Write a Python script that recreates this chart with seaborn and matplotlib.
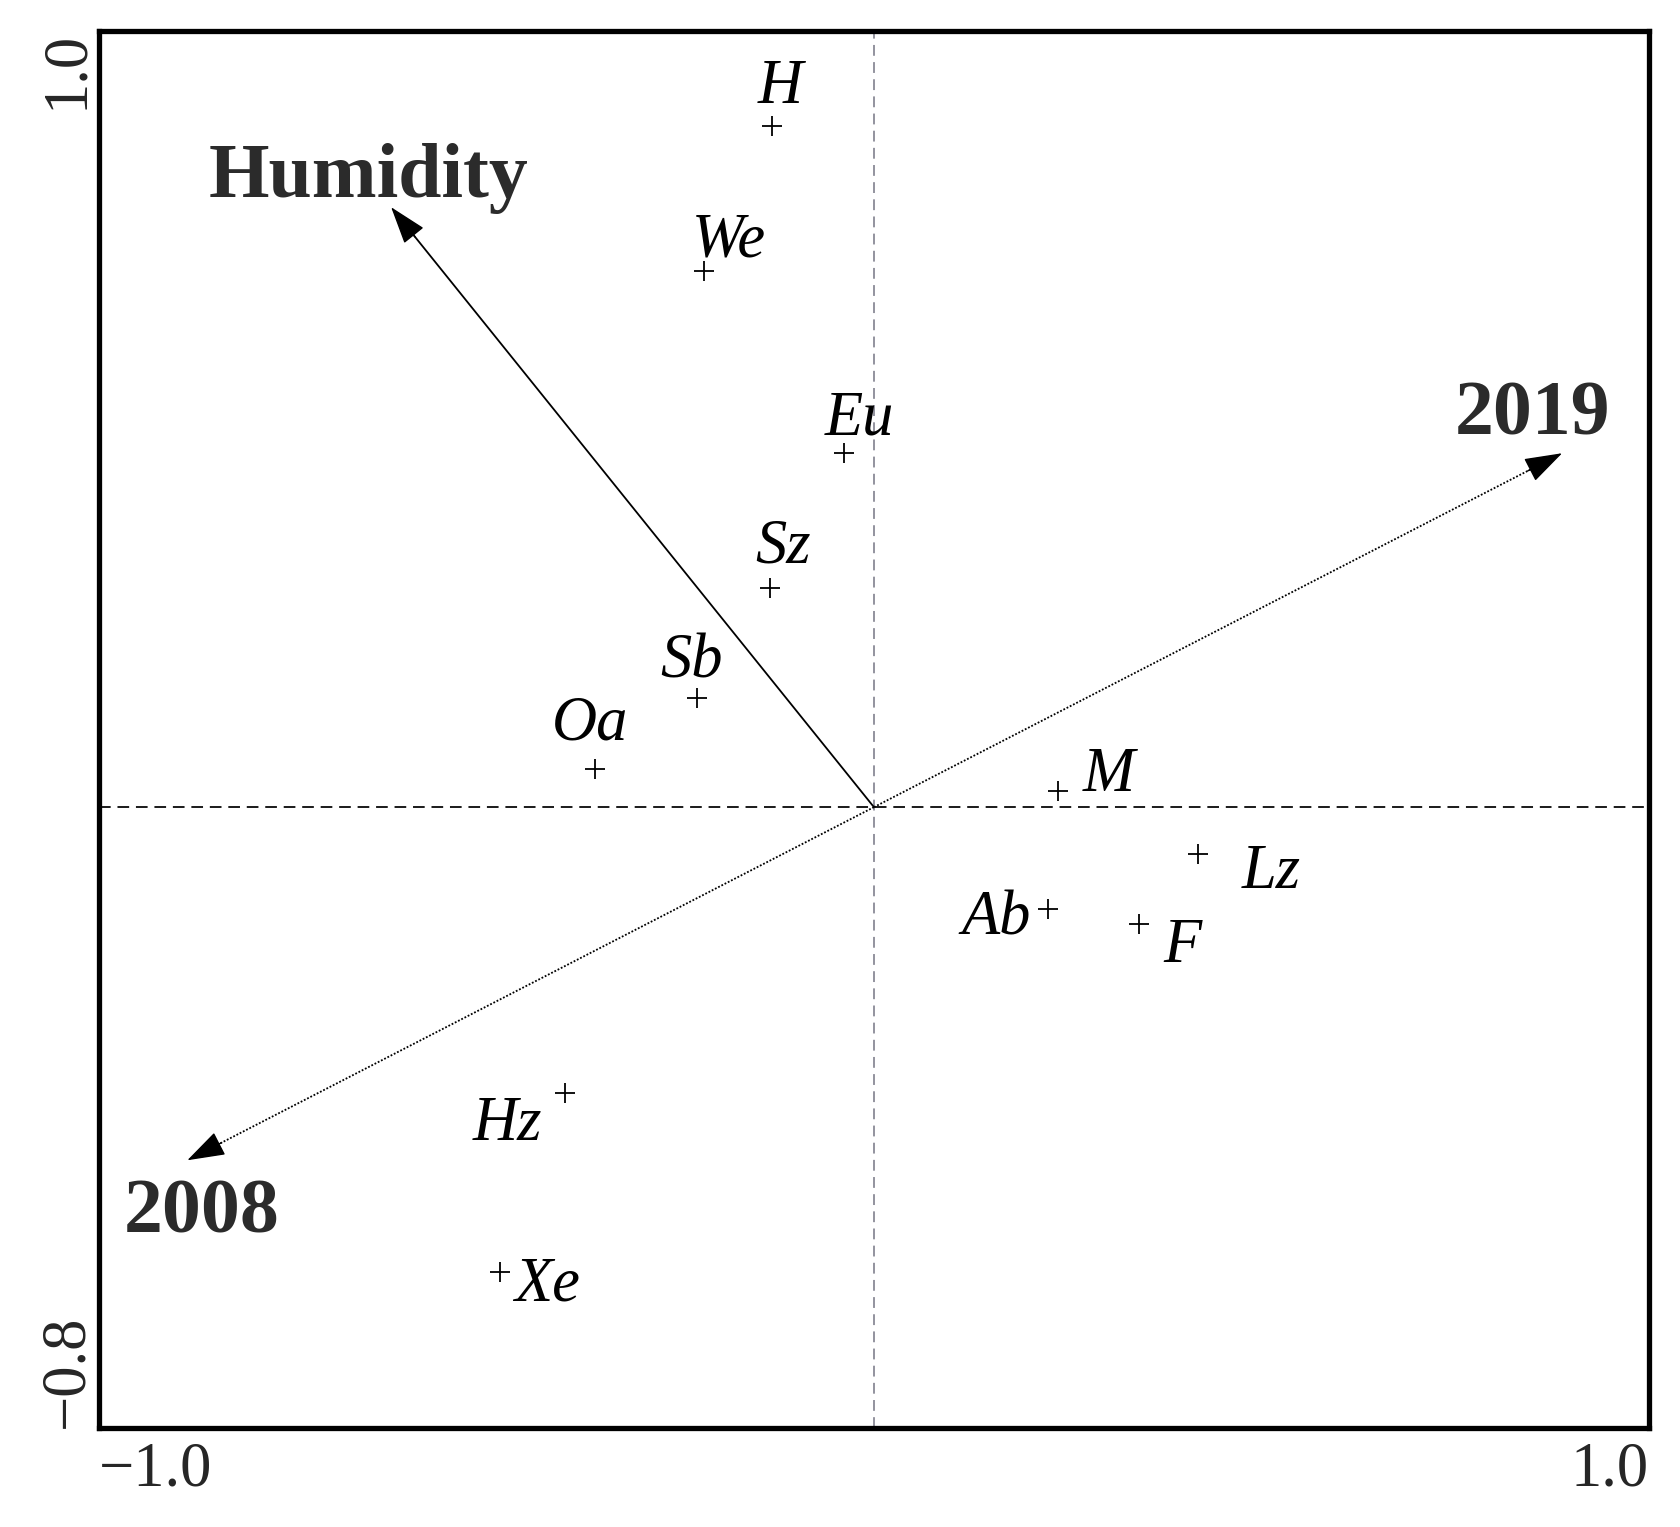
import matplotlib
matplotlib.use("Agg")
import matplotlib.pyplot as plt
import seaborn as sns
import pandas as pd

# species scores (axis 1, axis 2)
species = ["H", "We", "Eu", "Sz", "Sb", "Oa", "M", "Lz", "Ab", "F", "Hz", "Xe"]
axis1 = [-0.132, -0.219, -0.038, -0.134, -0.228, -0.360, 0.238, 0.418, 0.224, 0.342, -0.398, -0.483]
axis2 = [0.878, 0.691, 0.456, 0.282, 0.141, 0.049, 0.021, -0.060, -0.131, -0.150, -0.368, -0.599]

# environmental vectors
env_names = ["Humidity", "2019", "2008"]
env_x = [-0.623, 0.888, -0.886]
env_y = [0.773, 0.456, -0.455]

df = pd.DataFrame({"species": species, "ax1": axis1, "ax2": axis2})

sns.set_style("white")
plt.rcParams["font.family"] = ["Liberation Serif", "DejaVu Serif"]

fig = plt.figure(figsize=(16.8, 15.27), dpi=100)
ax = fig.add_axes([0.0589, 0.0648, 0.9226, 0.9149])

# zero lines
ax.axhline(0, color="#1a1a1a", ls=(0, (6, 3.5)), lw=1.4, zorder=1)
ax.axvline(0, color="#8a8a96", ls=(0, (6, 3.5)), lw=1.3, zorder=1)

# species points
sns.scatterplot(data=df, x="ax1", y="ax2", marker="+", s=200, color="black",
                linewidth=1.3, ax=ax, zorder=3, legend=False)

# label offsets (points)
offsets = {"H": (6.5, 27), "We": (18, 21), "Eu": (11, 24), "Sz": (9, 29),
           "Sb": (-4, 25), "Oa": (-3.5, 32), "M": (36, 11), "Lz": (53, -14),
           "Ab": (-37, -8), "F": (31, -17), "Hz": (-42, -23), "Xe": (34, -10)}
for name, x, y in zip(species, axis1, axis2):
    ax.annotate(name, (x, y), xytext=offsets[name], textcoords="offset points",
                ha="center", va="center", fontsize=45, style="italic", color="black")

# vectors
label_off = {"Humidity": (-16, 21), "2019": (-21, 27), "2008": (10, -39)}
for name, x, y in zip(env_names, env_x, env_y):
    ls = "-" if name == "Humidity" else (0, (1, 1))
    ax.plot([0, x * 0.97], [0, y * 0.97], color="black", lw=1.3, ls=ls, zorder=2)
    ax.annotate("", xy=(x, y), xytext=(x * 0.95, y * 0.95),
                arrowprops=dict(arrowstyle="-|>,head_length=1.2,head_width=0.4",
                                color="black", lw=1, mutation_scale=20,
                                shrinkA=0, shrinkB=0), zorder=3)
    ax.annotate(name, (x, y), xytext=label_off[name], textcoords="offset points",
                ha="center", va="center", fontsize=56, fontweight="bold", color="#2b2b2b")

ax.set_xlim(-1.0, 1.0)
ax.set_ylim(-0.8, 1.0)
ax.set_xlabel("")
ax.set_ylabel("")

xt = [-1.0, -0.5, 0.0, 0.5, 1.0]
yt = [-0.8, -0.6, -0.4, -0.2, 0.0, 0.2, 0.4, 0.6, 0.8, 1.0]
ax.set_xticks(xt)
ax.set_xticklabels(["\u22121.0", "", "", "", "1.0"])
ax.set_yticks(yt)
ax.set_yticklabels(["\u22120.8"] + [""] * 8 + ["1.0"], rotation=90)
ax.tick_params(axis="both", direction="out", length=6, width=1.2, color="#999999",
               labelsize=45)
ax.tick_params(axis="x", pad=4)
ax.tick_params(axis="y", pad=-4)
xl = ax.get_xticklabels()
xl[0].set_ha("left")
xl[-1].set_ha("right")
yl = ax.get_yticklabels()
yl[0].set_va("bottom")
yl[-1].set_va("top")
for lab in yl:
    lab.set_ha("right")

for sp in ax.spines.values():
    sp.set_color("black")
    sp.set_linewidth(3.8)

fig.savefig("out.png", dpi=100)
